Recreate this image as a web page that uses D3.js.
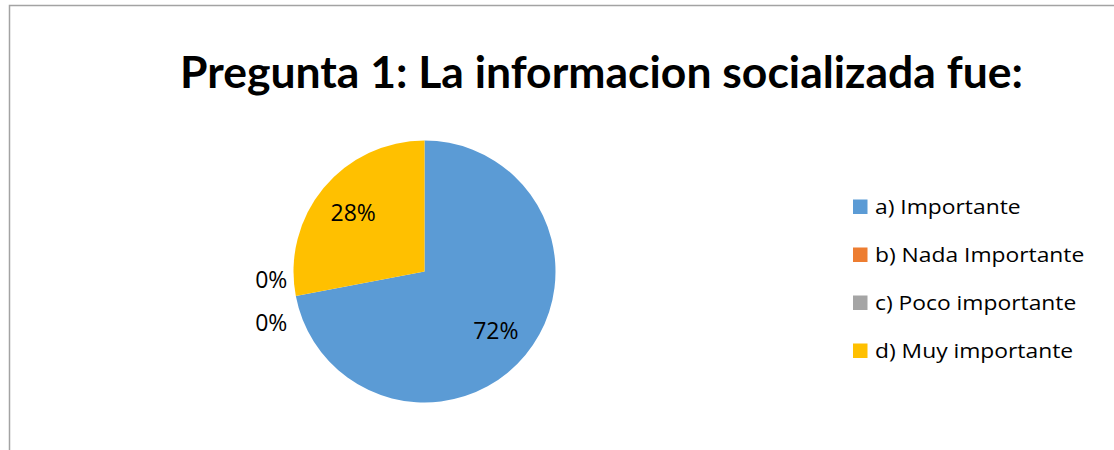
<!DOCTYPE html>
<html>
<head>
<meta charset="utf-8">
<script src="https://cdn.jsdelivr.net/npm/d3@7"></script>
<style>
  body { margin: 0; background: #fff; }
  svg { display: block; }
</style>
</head>
<body>
<svg id="chart" width="1114" height="450"></svg>
<script>
const title = "Pregunta 1: La informacion socializada fue:";
const categories = ["a) Importante", "b) Nada Importante", "c) Poco importante", "d) Muy importante"];
const values = [72, 0, 0, 28];
const colors = ["#5B9BD5", "#ED7D31", "#A5A5A5", "#FFC000"];

const W = 1114, H = 450;
const svg = d3.select("#chart");
const TFONT = "Lato, 'Open Sans', sans-serif";
const FONT = "'Open Sans', 'Noto Sans', sans-serif";

// stretch/compress text to a target width (reference font is Calibri, not installed)
function fit(sel, target) {
  sel.attr("textLength", target).attr("lengthAdjust", "spacingAndGlyphs");
}

// chart border
svg.append("rect")
  .attr("x", 9.5).attr("y", 5.5)
  .attr("width", W + 20).attr("height", H + 20)
  .attr("fill", "#fff").attr("stroke", "#a3a3a3").attr("stroke-width", 1.5);

// title
const t = svg.append("text")
  .attr("x", 601.5).attr("y", 87.5)
  .attr("text-anchor", "middle")
  .attr("font-family", TFONT).attr("font-weight", "bold")
  .attr("font-size", 43).attr("fill", "#000")
  .text(title);
fit(t, 843);

// pie
const cx = 424.5, cy = 271.5, R = 131;
const total = d3.sum(values);
const pie = d3.pie().sort(null).value(d => d)(values);
const arc = d3.arc().innerRadius(0).outerRadius(R);
const g = svg.append("g").attr("transform", `translate(${cx},${cy})`);
g.selectAll("path").data(pie).join("path")
  .attr("d", arc)
  .attr("fill", (d, i) => colors[i]);

// labels
const inner = d3.arc().innerRadius(R * 0.707).outerRadius(R * 0.707);
const outer = d3.arc().innerRadius(R + 25).outerRadius(R + 25);
const zeroIdx = pie.map((d, i) => i).filter(i => values[i] === 0);
const fmt = v => Math.round(v / total * 100) + "%";
pie.forEach((d, i) => {
  let x, y;
  if (values[i] > 0) {
    [x, y] = inner.centroid(d);
  } else {
    [x, y] = outer.centroid(d);
    const k = zeroIdx.indexOf(i);
    const n = zeroIdx.length;
    y += (k - (n - 1) / 2) * -43;
  }
  g.append("text")
    .attr("x", x).attr("y", y)
    .attr("dy", "0.36em")
    .attr("text-anchor", "middle")
    .attr("font-family", FONT).attr("font-size", 23)
    .attr("fill", "#000")
    .text(fmt(values[i]));
});

// legend
const ly = d3.scaleBand().domain(categories).range([183, 375]);
const lg = svg.append("g");
const legendScaleX = 1.17;
categories.forEach((c, i) => {
  const base = ly(c) + ly.bandwidth() / 2 + 7;
  lg.append("rect")
    .attr("x", 853).attr("y", base - 14.5)
    .attr("width", 14.5).attr("height", 14.5)
    .attr("fill", colors[i]);
  const tx = lg.append("text")
    .attr("x", 875).attr("y", base)
    .attr("font-family", FONT).attr("font-size", 19.5)
    .attr("fill", "#000")
    .text(c);
  fit(tx, tx.node().getComputedTextLength() * legendScaleX);
});
</script>
</body>
</html>
